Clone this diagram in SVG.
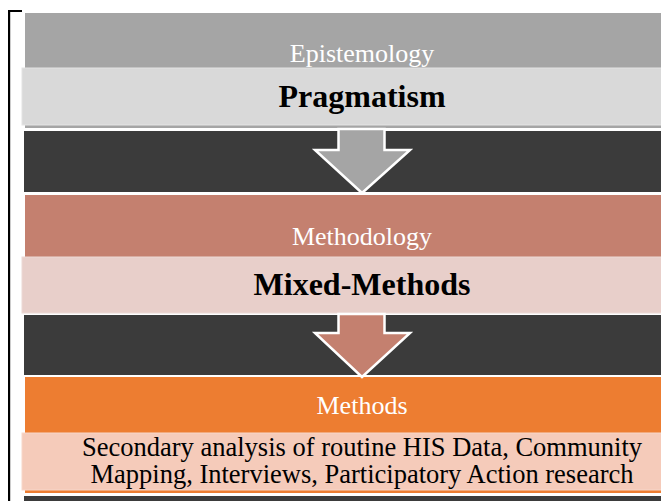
<svg xmlns="http://www.w3.org/2000/svg" width="661" height="501" viewBox="0 0 661 501">
  <style>
    .band { stroke: none; }
    .dark { fill: #3b3b3b; stroke: #ffffff; stroke-width: 2; }
    .head { font-family: "Liberation Serif", "Times New Roman", serif; font-size: 26px; fill: #ffffff; text-anchor: middle; }
    .main { font-family: "Liberation Serif", "Times New Roman", serif; font-size: 32px; font-weight: bold; fill: #000000; text-anchor: middle; }
    .body { font-family: "Liberation Serif", "Times New Roman", serif; font-size: 26.5px; fill: #000000; text-anchor: middle; }
    .arrow { stroke: #ffffff; stroke-width: 2.5; stroke-linejoin: miter; }
  </style>
  <rect width="661" height="501" fill="#ffffff"/>

  <!-- page frame corner -->
  <g id="frame" fill="#000000">
    <rect x="8" y="10" width="2.2" height="491"/>
    <rect x="8" y="10" width="14" height="2"/>
  </g>

  <!-- dark separator bands -->
  <g id="separators">
    <rect class="dark" x="23" y="130" width="660" height="63"/>
    <rect class="dark" x="23" y="314" width="660" height="62"/>
    <rect class="dark" x="23" y="495" width="660" height="20"/>
  </g>

  <g id="epistemology">
    <rect class="band" x="25" y="13" width="640" height="115" fill="#a5a5a5"/>
    <rect x="22" y="68" width="645" height="57" fill="#d9d9d9" stroke="#e4e4e4" stroke-width="1"/>
    <text class="head" x="362" y="62">Epistemology</text>
    <text class="main" x="362" y="107">Pragmatism</text>
  </g>

  <g id="methodology">
    <rect class="band" x="25" y="195" width="640" height="62" fill="#c4806f"/>
    <rect x="22" y="257" width="645" height="56" fill="#e8cfca" stroke="#ecdad6" stroke-width="1"/>
    <text class="head" x="362" y="245">Methodology</text>
    <text class="main" x="362" y="295">Mixed-Methods</text>
  </g>

  <g id="methods">
    <rect class="band" x="25" y="377" width="640" height="116" fill="#ed7d31"/>
    <rect x="22" y="433" width="645" height="57" fill="#f5cbba" stroke="#f7d7ca" stroke-width="1"/>
    <text class="head" x="362" y="414">Methods</text>
    <text class="body" x="362" y="456">Secondary analysis of routine HIS Data, Community</text>
    <text class="body" x="362" y="483">Mapping, Interviews, Participatory Action research</text>
  </g>

  <!-- down arrows between levels -->
  <g id="connectors">
    <path class="arrow" fill="#a5a5a5" d="M338.5 129 H384.5 V150 H410 L362 193 L315 150 H338.5 Z"/>
    <path class="arrow" fill="#c4806f" d="M338.5 314 H384.5 V333 H410 L362 377 L315 333 H338.5 Z"/>
  </g>
</svg>
